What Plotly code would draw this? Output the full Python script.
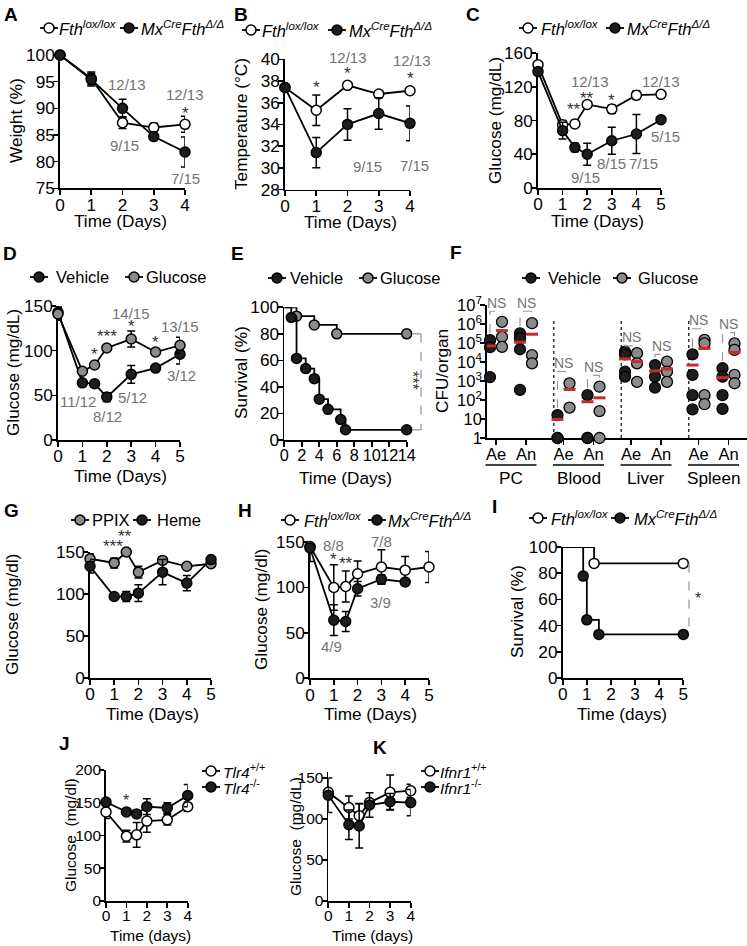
import math
import plotly.graph_objects as go

W, H = 747, 946
FONT = "Liberation Sans, Arial, Helvetica, sans-serif"
NARROW = "Liberation Sans Narrow, Arial Narrow, Liberation Sans, Arial, sans-serif"
OPEN, DARK, GREY = "#ffffff", "#1d1d1d", "#8b8b8b"
TXT_GRAY, STAR, RED, DASH = "#737373", "#333333", "#c62a2f", "#9a9a9a"
TFS = 17.2  # main text size

# ===================== DATA =====================
# A  weight (%)
a_days = [0, 1, 2, 3, 4]
a_lox = [100, 95.6, 87.3, 86.4, 87.0]
a_lox_err = [0, 1.2, 1.1, 0.8, 1.5]
a_cre = [100, 95.4, 90.0, 84.7, 81.8]
a_cre_err = [0, 1.2, 1.7, 0.4, 2.8]

# B  temperature (°C)
b_days = [0, 1, 2, 3, 4]
b_lox = [37.4, 35.3, 37.6, 36.8, 37.1]
b_lox_err = [0.2, 1.4, 0.2, 0.3, 0.3]
b_cre = [37.4, 31.4, 34.0, 35.0, 34.1]
b_cre_err = [0.2, 1.4, 1.45, 1.45, 1.6]

# C  glucose (mg/dL)
c_days = [0, 1, 1.5, 2, 3, 4, 5]
c_lox = [146, 75, 76, 99, 93.5, 110, 111]
c_lox_err = [3, 5, 3, 3, 5, 5, 4]
c_cre = [138, 68, 48, 40, 56, 64, 81]
c_cre_err = [3, 10, 5, 13, 16, 23, 2]

# D  glucose, vehicle vs glucose
d_days = [0, 1, 1.5, 2, 3, 4, 5]
d_veh = [143, 64, 63, 48, 73.5, 80.5, 96]
d_veh_err = [7, 3, 4, 5, 10, 2, 11]
d_glu = [141, 77, 84, 103, 113, 98.5, 106]
d_glu_err = [7, 2, 2, 2, 9, 2, 9]

# E  survival (%)
e_veh_t = [0, 0.8, 1.4, 2.45, 3.43, 4.0, 5.0, 6.45, 7.0, 14]
e_veh_s = [100, 92.3, 61.5, 53.8, 46.2, 30.8, 23.1, 15.4, 7.7, 7.7]
e_glu_t = [0, 1.4, 3.43, 6.0, 14]
e_glu_s = [100, 93.3, 86.7, 80.0, 80.0]

# F  CFU/organ  (order: PC Ae, PC An, Blood Ae, Blood An, Liver Ae, Liver An, Spleen Ae, Spleen An)
f_organs = ["PC", "Blood", "Liver", "Spleen"]
f_conds = ["Ae", "An"]
f_vehicle = [[1.4e5, 6e4, 1.6e3], [3.2e5, 1.8e5, 4.7e4, 3.4e2],
             [16, 1, 1], [180, 1, 1],
             [3.5e4, 2.5e4, 3.1e3, 1.7e3], [6.9e3, 1.7e3, 4.5e2],
             [2.5e4, 2.1e3, 1.8e2, 32], [4.7e3, 1.7e3, 1.8e2, 34]]
f_glucose = [[1.3e6, 2.1e5, 6.3e4], [1.1e6, 2.3e4, 8.5e3],
             [750, 40], [500, 26, 1],
             [2.9e4, 8.5e3, 9e2], [1.05e4, 3.1e3, 9e2],
             [1.45e5, 9.5e4, 1.8e2, 60], [9.5e4, 4.3e4, 2.1e3, 7.6e2]]
f_vehicle_mean = [7e4, 1.1e5, 9.5, 81, 1.45e4, 3.4e3, 6.9e3, 1.5e3]
f_glucose_mean = [4.5e5, 2.9e5, 3.6e2, 1.3e2, 1.05e4, 4.3e3, 5.2e4, 3.2e4]

# G  glucose, PPIX vs heme
g_days = [0, 1, 1.5, 2, 3, 4, 5]
g_ppix = [142, 137, 150, 126, 140, 133, 136]
g_ppix_err = [6, 6, 2, 7, 4, 2, 3]
g_heme = [133, 97, 97, 101, 126, 113, 141]
g_heme_err = [8, 2, 6, 10, 15, 9, 3]

# H  glucose
h_days_lox = [0, 1, 1.5, 2, 3, 4, 5]
h_lox = [145, 100, 101, 115, 122.5, 119, 122.5]
h_lox_err = [0, 25, 17, 14, 19, 15, 17]
h_days_cre = [0, 1, 1.5, 2, 3, 4]
h_cre = [143.5, 64, 62.5, 98.6, 109, 106]
h_cre_err = [15, 17, 11, 8, 5, 3]

# I  survival (%)
i_lox_t = [0, 1.3, 5]
i_lox_s = [100, 87.5, 87.5]
i_cre_t = [0, 0.85, 1.0, 1.5, 5]
i_cre_s = [100, 77.8, 44.4, 33.3, 33.3]

# J  glucose, Tlr4
j_days = [0, 1, 1.5, 2, 3, 4]
j_wt = [136, 99, 101, 122, 124, 144]
j_wt_err = [10, 9, 19, 17, 8, 7]
j_ko = [151, 136, 133, 144, 142, 161]
j_ko_err = [3, 3, 4, 12, 8, 17]

# K  glucose, Ifnr1
k_days = [0, 1, 1.5, 2, 3, 4]
k_wt = [132.5, 114, 104, 120, 132.5, 134.5]
k_wt_err = [3, 14, 15, 4, 21, 8]
k_ko = [129, 93, 91.5, 117, 121, 120]
k_ko_err = [21, 18, 27, 15, 10, 16]

# ===================== FIGURE =====================
fig = go.Figure()
lay = {}
ann = []
shp = []
panels = {}


def panel(key, i, xpx, ypx, xr, yr, xtv, ytv, xtt=None, ytt=None, ylog=False, font=FONT,
          fs=TFS, xfs=None):
    xref = "x" if i == 1 else f"x{i}"
    yref = "y" if i == 1 else f"y{i}"
    common = dict(showline=True, linecolor="black", linewidth=1.8, ticks="outside", ticklen=5,
                  tickwidth=1.6, tickcolor="black", showgrid=False, zeroline=False,
                  layer="below traces", fixedrange=True, tickangle=0, automargin=False,
                  ticklabelstandoff=-5,
                  tickfont=dict(family=font, size=fs, color="black"))
    xd = dict(common, domain=[xpx[0] / W, xpx[1] / W], range=xr, anchor=yref,
              tickmode="array", tickvals=xtv, ticktext=xtt or [str(v) for v in xtv])
    if xfs:
        xd["tickfont"] = dict(family=font, size=xfs, color="black")
    lay["xaxis" if i == 1 else f"xaxis{i}"] = xd
    yd = dict(common, domain=[1 - ypx[1] / H, 1 - ypx[0] / H], range=yr, anchor=xref,
              tickmode="array", tickvals=ytv, ticktext=ytt or [str(v) for v in ytv])
    if ylog:
        yd["type"] = "log"
    lay["yaxis" if i == 1 else f"yaxis{i}"] = yd
    panels[key] = dict(ax=(xref, yref), xpx=xpx, ypx=ypx, xr=xr, yr=yr, log=ylog)
    return key


def to_px(key, x, y, ylog_value=False):
    p = panels[key]
    X = p["xpx"][0] + (x - p["xr"][0]) / (p["xr"][1] - p["xr"][0]) * (p["xpx"][1] - p["xpx"][0])
    yv = (y if ylog_value else math.log10(y)) if p["log"] else y
    Y = p["ypx"][1] - (yv - p["yr"][0]) / (p["yr"][1] - p["yr"][0]) * (p["ypx"][1] - p["ypx"][0])
    return X, Y


def pline(x0, y0, x1, y1, color="black", width=1.5, dash="solid"):
    shp.append(dict(type="line", xref="paper", yref="paper", x0=x0 / W, x1=x1 / W,
                    y0=1 - y0 / H, y1=1 - y1 / H, line=dict(color=color, width=width, dash=dash)))


def series(key, x, y, err, fill, mode="lines+markers", size=10, shape="linear", lw=1.8):
    xr, yr = panels[key]["ax"]
    fig.add_trace(go.Scatter(
        x=x, y=y, xaxis=xr, yaxis=yr, mode=mode,
        line=dict(color="black", width=lw, shape=shape),
        marker=dict(size=size, color=fill, line=dict(color="black", width=1.5)),
        error_y=dict(type="data", array=err, color="black", thickness=1.5, width=4,
                     visible=err is not None),
        cliponaxis=False, showlegend=False, hoverinfo="skip"))


def survival(key, t, s, fill):
    series(key, t, s, None, fill, mode="lines", shape="hv")
    series(key, t[1:], s[1:], None, fill, mode="markers")


def ptxt(xp, yp, s, size=TFS, color="black", font=FONT, xanchor="center", **kw):
    ann.append(dict(xref="paper", yref="paper", x=xp / W, y=1 - yp / H, text=s, showarrow=False,
                    font=dict(family=font, size=size, color=color),
                    xanchor=xanchor, yanchor="middle", **kw))


def txt(key, x, y, s, color=TXT_GRAY, size=15, font=FONT, ylog_value=False, **kw):
    X, Y = to_px(key, x, y, ylog_value)
    ptxt(X, Y, s, size=size, color=color, font=font, **kw)


def legend_item(cx, cy, fill, label, tx, size=16.5, font=FONT):
    pline(cx - 9, cy, cx + 9, cy, width=1.8)
    r = 5
    shp.append(dict(type="circle", xref="paper", yref="paper", x0=(cx - r) / W, x1=(cx + r) / W,
                    y0=1 - (cy + r) / H, y1=1 - (cy - r) / H, fillcolor=fill,
                    line=dict(color="black", width=1.5)))
    ptxt(tx, cy, label, size=size, font=font, xanchor="left")


LOX = "<i>Fth</i><sup><i>lox/lox</i></sup>"
CRE = "<i>Mx</i><sup><i>Cre</i></sup><i>Fth</i><sup><i>Δ/Δ</i></sup>"

# ---------------- A ----------------
A = panel("A", 1, (60, 185), (55, 188.3), [0, 4], [75, 100], [0, 1, 2, 3, 4], [75, 80, 85, 90, 95, 100])
series(A, a_days, a_lox, a_lox_err, OPEN)
series(A, a_days, a_cre, a_cre_err, DARK)
txt(A, 2.15, 94.4, "12/13")
txt(A, 2.05, 83.1, "9/15")
txt(A, 4.0, 92.5, "12/13")
txt(A, 4.0, 89.0, "*", color=STAR, size=17)
txt(A, 4.0, 76.9, "7/15")
legend_item(49, 28, OPEN, LOX, 57)
legend_item(129, 28, DARK, CRE, 139)

# ---------------- B ----------------
B = panel("B", 2, (285, 410), (59.3, 189.5), [0, 4], [28, 40], [0, 1, 2, 3, 4], [28, 30, 32, 34, 36, 38, 40])
series(B, b_days, b_lox, b_lox_err, OPEN)
series(B, b_days, b_cre, b_cre_err, DARK)
txt(B, 1.0, 37.4, "*", color=STAR, size=17)
txt(B, 2.0, 40.2, "12/13")
txt(B, 2.0, 38.7, "*", color=STAR, size=17)
txt(B, 4.05, 39.9, "12/13")
txt(B, 4.0, 38.2, "*", color=STAR, size=17)
txt(B, 2.65, 30.1, "9/15")
txt(B, 4.15, 30.25, "7/15")
legend_item(251, 30, OPEN, LOX, 260)
legend_item(337, 30, DARK, CRE, 347)

# ---------------- C ----------------
C = panel("C", 3, (538, 661), (53, 188), [0, 5], [0, 160], [0, 1, 2, 3, 4, 5], [0, 40, 80, 120, 160])
series(C, c_days, c_lox, c_lox_err, OPEN)
series(C, c_days, c_cre, c_cre_err, DARK)
txt(C, 1.45, 93, "**", color=STAR, size=17)
txt(C, 2.0, 106, "**", color=STAR, size=17)
txt(C, 2.1, 126, "12/13")
txt(C, 3.0, 103.5, "*", color=STAR, size=17)
txt(C, 5.0, 126, "12/13")
txt(C, 5.17, 61, "5/15")
txt(C, 1.95, 13, "9/15")
txt(C, 2.98, 28.5, "8/15")
txt(C, 4.28, 28.5, "7/15")
legend_item(528, 28, OPEN, LOX, 539)
legend_item(615, 28, DARK, CRE, 625)

# ---------------- D ----------------
D = panel("D", 4, (58, 180), (306, 440), [0, 5], [0, 150], [0, 1, 2, 3, 4, 5], [0, 50, 100, 150])
series(D, d_days, d_veh, d_veh_err, DARK)
series(D, d_days, d_glu, d_glu_err, GREY)
txt(D, 1.5, 96, "*", color=STAR, size=17)
txt(D, 2.0, 116, "***", color=STAR, size=17)
txt(D, 3.0, 142, "14/15")
txt(D, 3.0, 127, "*", color=STAR, size=17)
txt(D, 4.0, 109, "*", color=STAR, size=17)
txt(D, 5.0, 127, "13/15")
txt(D, 5.07, 72.7, "3/12")
txt(D, 3.05, 48, "5/12")
txt(D, 0.84, 43, "11/12")
txt(D, 2.03, 26, "8/12")
legend_item(39, 277, DARK, "Vehicle", 54)
legend_item(134, 277, GREY, "Glucose", 144)

# ---------------- E ----------------
E = panel("E", 5, (284.3, 406.7), (307.3, 440), [0, 14], [0, 100],
          [0, 2, 4, 6, 8, 10, 12, 14], [0, 20, 40, 60, 80, 100], xfs=16.3)
survival(E, e_glu_t, e_glu_s, GREY)
survival(E, e_veh_t, e_veh_s, DARK)
xa, ya = to_px(E, 14, e_glu_s[-1])
xb, yb = to_px(E, 14, e_veh_s[-1])
pline(xa + 6, ya, 421, ya, DASH, 1.3, "dash")
pline(421, ya, 421, yb, DASH, 1.3, "dash")
pline(xb + 6, yb, 421, yb, DASH, 1.3, "dash")
ptxt(413, 380, "***", size=16, color=STAR, textangle=90)
legend_item(277, 278, DARK, "Vehicle", 288)
legend_item(368, 278, GREY, "Glucose", 378)

# ---------------- F ----------------
F_UNIT = 30.0
f_xr = [0, (747 - 487) / F_UNIT]
f_pos = [0.3 + 2.25 * g + s for g in range(4) for s in range(2)]
F = panel("F", 6, (487, 747), (305, 438), f_xr, [0, 7], f_pos,
          [1, 10, 100, 1e3, 1e4, 1e5, 1e6, 1e7],
          xtt=[f_conds[s] for g in range(4) for s in range(2)],
          ytt=["1", "10", "10<sup>2</sup>", "10<sup>3</sup>", "10<sup>4</sup>",
               "10<sup>5</sup>", "10<sup>6</sup>", "10<sup>7</sup>"], ylog=True, fs=16.5)
fxr, fyr = panels[F]["ax"]
# group separators
sx, sy = [], []
for g in range(3):
    xs = 0.3 + 2.25 * g + 1.925
    sx += [xs, xs, None]
    sy += [1, 10 ** 6.3, None]
fig.add_trace(go.Scatter(x=sx, y=sy, xaxis=fxr, yaxis=fyr, mode="lines",
                         line=dict(color="#333333", width=1.5, dash="dot"),
                         showlegend=False, hoverinfo="skip", cliponaxis=False))
# points
vx, vy, gx, gy = [], [], [], []
for k in range(8):
    vx += [f_pos[k] - 0.2] * len(f_vehicle[k])
    vy += f_vehicle[k]
    gx += [f_pos[k] + 0.2] * len(f_glucose[k])
    gy += f_glucose[k]
for xs, ys, col in ((vx, vy, DARK), (gx, gy, GREY)):
    fig.add_trace(go.Scatter(x=xs, y=ys, xaxis=fxr, yaxis=fyr, mode="markers",
                             marker=dict(size=11, color=col, line=dict(color="black", width=1.3)),
                             showlegend=False, hoverinfo="skip", cliponaxis=False))
# mean lines
mx, my = [], []
for k in range(8):
    for off, m in ((-0.2, f_vehicle_mean[k]), (0.2, f_glucose_mean[k])):
        mx += [f_pos[k] + off - 0.2, f_pos[k] + off + 0.2, None]
        my += [m, m, None]
fig.add_trace(go.Scatter(x=mx, y=my, xaxis=fxr, yaxis=fyr, mode="lines",
                         line=dict(color=RED, width=3), showlegend=False, hoverinfo="skip",
                         cliponaxis=False))
# NS brackets
f_ns_top = [6.67, 6.67, 3.5, 3.3, 4.85, 4.4, 5.75, 5.55]
bx, by = [], []
for k in range(8):
    top = 10 ** f_ns_top[k]
    bv = max(f_vehicle[k]) * 10 ** 0.38
    bg = max(f_glucose[k]) * 10 ** 0.38
    bx += [f_pos[k] - 0.2, f_pos[k] - 0.2, f_pos[k] + 0.2, f_pos[k] + 0.2, None]
    by += [bv, top, top, bg, None]
    txt(F, f_pos[k], f_ns_top[k] + 0.45, "NS", size=14, ylog_value=True)
fig.add_trace(go.Scatter(x=bx, y=by, xaxis=fxr, yaxis=fyr, mode="lines",
                         line=dict(color=DASH, width=1.2, dash="dash"), showlegend=False,
                         hoverinfo="skip", cliponaxis=False))
for g in range(4):
    c = 0.3 + 2.25 * g + 0.5
    x0, _ = to_px(F, c - 0.85, 1)
    x1, _ = to_px(F, c + 0.85, 1)
    pline(x0, 465, min(x1, 746), 465, "black", 1.6)
    ptxt((x0 + min(x1, 746)) / 2, 478, f_organs[g])
legend_item(531, 278, DARK, "Vehicle", 546)
legend_item(622, 278, GREY, "Glucose", 636)

# ---------------- G ----------------
G = panel("G", 7, (90, 211), (552, 678), [0, 5], [0, 150], [0, 1, 2, 3, 4, 5], [0, 50, 100, 150])
series(G, g_days, g_ppix, g_ppix_err, GREY)
series(G, g_days, g_heme, g_heme_err, DARK)
txt(G, 0.95, 156, "***", color=STAR, size=17)
txt(G, 1.45, 169, "**", color=STAR, size=17)
legend_item(80, 520, GREY, "PPIX", 90)
legend_item(142, 520, DARK, "Heme", 155)

# ---------------- H ----------------
Hp = panel("H", 8, (310, 429), (542, 678.3), [0, 5], [0, 150], [0, 1, 2, 3, 4, 5], [0, 50, 100, 150])
series(Hp, h_days_lox, h_lox, h_lox_err, OPEN)
series(Hp, h_days_cre, h_cre, h_cre_err, DARK)
txt(Hp, 0.97, 146, "8/8")
txt(Hp, 0.97, 131, "*", color=STAR, size=17)
txt(Hp, 1.53, 126, "**", color=STAR, size=17)
txt(Hp, 3.0, 151, "7/8")
txt(Hp, 2.95, 83, "3/9")
txt(Hp, 0.9, 35, "4/9")
legend_item(290, 520, OPEN, LOX, 302)
legend_item(377, 520, DARK, CRE, 386)

# ---------------- I ----------------
I = panel("I", 9, (562.7, 683.3), (547, 678), [0, 5], [0, 100], [0, 1, 2, 3, 4, 5],
          [0, 20, 40, 60, 80, 100])
survival(I, i_lox_t, i_lox_s, OPEN)
survival(I, i_cre_t, i_cre_s, DARK)
xa, ya = to_px(I, 5, i_lox_s[-1])
xb, yb = to_px(I, 5, i_cre_s[-1])
pline(xa + 6, ya, 689, ya, DASH, 1.3, "dash")
pline(689, ya, 689, yb, DASH, 1.3, "dash")
pline(xb + 6, yb, 689, yb, DASH, 1.3, "dash")
ptxt(698, 598, "*", size=16, color=STAR)
legend_item(538, 518, OPEN, LOX, 549)
legend_item(620, 518, DARK, CRE, 632)

# ---------------- J ----------------
J = panel("J", 10, (106, 187.7), (770, 901), [0, 4], [0, 200], [0, 1, 2, 3, 4],
          [0, 50, 100, 150, 200], font=NARROW, fs=15.5)
series(J, j_days, j_wt, j_wt_err, OPEN)
series(J, j_days, j_ko, j_ko_err, DARK)
txt(J, 1.0, 154, "*", color=STAR, size=16)
legend_item(211, 771, OPEN, "<i>Tlr4</i><sup>+/+</sup>", 221, size=15.5, font=NARROW)
legend_item(211, 787, DARK, "<i>Tlr4</i><sup>-/-</sup>", 221, size=15.5, font=NARROW)

# ---------------- K ----------------
K = panel("K", 11, (328.3, 410.7), (772, 901), [0, 4], [0, 157.3], [0, 1, 2, 3, 4],
          [0, 50, 100, 150], font=NARROW, fs=15.5)
series(K, k_days, k_wt, k_wt_err, OPEN)
series(K, k_days, k_ko, k_ko_err, DARK)
legend_item(430, 771, OPEN, "<i>Ifnr1</i><sup>+/+</sup>", 438, size=15.5, font=NARROW)
legend_item(430, 787, DARK, "<i>Ifnr1</i><sup>-/-</sup>", 438, size=15.5, font=NARROW)

# ---------------- axis titles & panel letters ----------------
for (x, y, s) in [(16, 121, "Weight (%)"), (241, 124, "Temperature (°C)"), (495, 121, "Glucose (mg/dL)"),
                  (13, 373, "Glucose (mg/dL)"), (241, 373, "Survival (%)"), (442, 371, "CFU/organ"),
                  (12, 615, "Glucose (mg/dl)"), (261, 610, "Glucose (mg/dl)"), (517, 612, "Survival (%)")]:
    ptxt(x, y, s, textangle=-90)
for (x, y, s) in [(70, 835, "Glucose  (mg/dl)"), (295, 837, "Glucose  (mg/dL)")]:
    ptxt(x, y, s, textangle=-90, font=NARROW, size=15.5)
for (x, y, s) in [(121, 221, "Time (Days)"), (350, 222, "Time (Days)"), (597, 221, "Time (Days)"),
                  (120, 476, "Time (Days)"), (345, 478, "Time (Days)"),
                  (152, 714, "Time (Days)"), (370, 714, "Time (Days)"), (622, 714, "Time (days)")]:
    ptxt(x, y, s)
for (x, y, s) in [(150, 935, "Time (days)"), (372, 935, "Time (days)")]:
    ptxt(x, y, s, font=NARROW, size=15.5)
for (x, y, s) in [(10.5, 15, "A"), (241, 15, "B"), (473, 15, "C"), (10, 253, "D"), (237, 253, "E"),
                  (456, 252, "F"), (12, 510, "G"), (245, 510, "H"), (494, 507, "I"),
                  (64, 743, "J"), (380, 747, "K")]:
    ptxt(x, y, f"<b>{s}</b>", size=19)

fig.update_layout(width=W, height=H, margin=dict(l=0, r=0, t=0, b=0, autoexpand=False),
                  paper_bgcolor="white", plot_bgcolor="white", showlegend=False,
                  font=dict(family=FONT, color="black"), annotations=ann, shapes=shp, **lay)
fig.write_html("out.html", config={"displayModeBar": False, "staticPlot": True},
               post_script="document.body.style.margin='0px';document.body.style.padding='0px';"
                           "document.documentElement.style.overflow='hidden';")
